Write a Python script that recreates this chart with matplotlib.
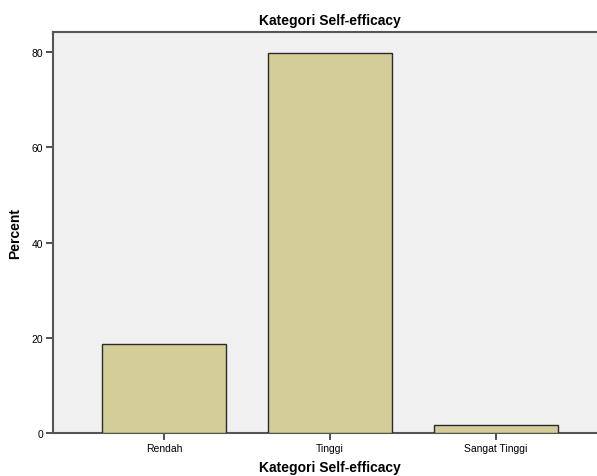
import matplotlib
matplotlib.use("Agg")
import matplotlib.pyplot as plt

categories = ["Rendah", "Tinggi", "Sangat Tinggi"]
percent = [18.6, 79.7, 1.7]
yticks = [0, 20, 40, 60, 80]

plt.rcParams['font.family'] = ['Liberation Sans', 'DejaVu Sans']

fig = plt.figure(figsize=(5.97, 4.77), dpi=100)
ax = fig.add_axes([53/597, 43/477, 554/597, 401/477])
ax.set_facecolor('#F0F0F0')
x = list(range(len(categories)))
ax.bar(x, percent, width=0.75, color='#D3CE97', edgecolor='#2b2b2b', linewidth=1.0, zorder=3)
ax.set_xlim(-0.669, 2.669)
ax.set_ylim(0, 84.2)
ax.set_yticks(yticks)
ax.set_yticklabels([str(v) for v in yticks], fontsize=7.5)
ax.set_xticks(x)
ax.set_xticklabels(categories, fontsize=7.5)
ax.tick_params(axis='both', length=5, width=1.2, color='#333333', pad=2)
for s in ['left', 'bottom', 'top']:
    ax.spines[s].set_color('#555555')
    ax.spines[s].set_linewidth(1.5)
ax.spines['right'].set_visible(False)
ax.set_title('Kategori Self-efficacy', fontsize=10, fontweight='bold', pad=6)
ax.set_xlabel('Kategori Self-efficacy', fontsize=10, fontweight='bold', labelpad=5)
ax.set_ylabel('Percent', fontsize=10, fontweight='bold', labelpad=7)
fig.savefig('out.png', dpi=100)
